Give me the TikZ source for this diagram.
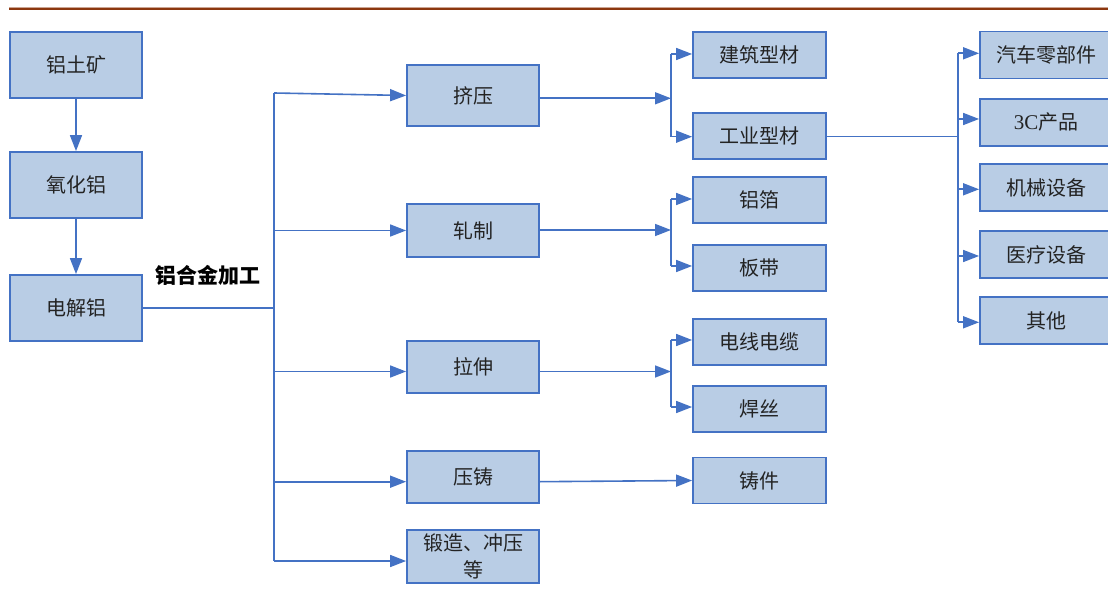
\documentclass[tikz,border=0pt]{standalone}
\usepackage{fontspec}
\setmainfont{Noto Sans CJK SC}
\newfontfamily\latfont{Liberation Serif}
\usetikzlibrary{arrows.meta}
\definecolor{bf}{RGB}{185,205,229}
\definecolor{bc}{RGB}{68,114,196}
\definecolor{tc}{RGB}{35,35,35}
\definecolor{topc}{RGB}{140,55,15}
\begin{document}
\begin{tikzpicture}[x=1pt,y=-1pt,
  box/.style={draw=bc,fill=bf,line width=1.8pt,inner sep=0pt,text=tc,
    font=\fontsize{20}{27}\selectfont,align=center},
  colA/.style={box,minimum width=132pt},
  colC/.style={box,minimum width=133pt,minimum height=46pt},
  colD/.style={box,minimum width=132pt,minimum height=47pt},
  conn/.style={draw=bc,line width=1.6pt},
  arr/.style={conn,-{Triangle[length=16pt,width=12pt]}}]
\useasboundingbox (0,0) rectangle (1108,601);
\clip (0,0) rectangle (1108,601);
\fill[white] (0,0) rectangle (1108,601);
% top rule
\coordinate (tl) at (9,9.5);
\coordinate (tr) at (1108,9.5);
\draw[topc!45,line width=1pt] ([yshift=1.5pt]tl) -- ([yshift=1.5pt]tr);
\draw[topc,line width=2pt] (tl) -- (tr);

% first column
\node[colA,minimum height=66pt] (a1) at (76,65) {铝土矿};
\node[colA,minimum height=66pt] (a2) at (76,185) {氧化铝};
\node[colA,minimum height=66pt] (a3) at (76,308) {电解铝};
\draw[arr] (a1) -- (a2);
\draw[arr] (a2) -- (a3);
\node[font=\fontsize{21}{24}\selectfont\bfseries,text=black] (lbl) at (208,275) {铝合金加工};

% second column
\node[colA,minimum height=61pt] (b1) at (473,95.5) {挤压};
\node[colA,minimum height=53pt] (b2) at (473,230.5) {轧制};
\node[colA,minimum height=52pt] (b3) at (473,367) {拉伸};
\node[colA,minimum height=52pt] (b4) at (473,477) {压铸};
\node[colA,minimum height=53pt,font=\fontsize{20}{27}\selectfont] (b5) at (473,556.5) {锻造、冲压\\等};

\coordinate (j1) at (274,308);
\coordinate (jt) at (274,93);
\coordinate (jb) at (274,561);
\draw[conn] (a3.east) -- (j1);
\draw[conn] (jt) -- (jb);
\draw[arr] (jt) -- (b1.west);
\draw[arr] (j1 |- b2.west) -- (b2.west);
\draw[arr] (274,371.5) -- ([yshift=-4.5pt]b3.west);
\draw[arr] (274,481.7) -- ([yshift=-4.7pt]b4.west);
\draw[arr] (jb) -- ([yshift=-4.5pt]b5.west);

% third column
\node[colC] (c1) at (759.5,55) {建筑型材};
\node[colC] (c2) at (759.5,136) {工业型材};
\node[colC] (c3) at (759.5,200) {铝箔};
\node[colC] (c4) at (759.5,268) {板带};
\node[colC] (c5) at (759.5,342) {电线电缆};
\node[colC] (c6) at (759.5,409) {焊丝};
\node[colC] (c7) at (759.5,480.5) {铸件};

% extrusion group
\coordinate (k1) at (671,98.3);
\coordinate (k1t) at (671,54);
\coordinate (k1b) at (671,136.7);
\draw[arr] ([yshift=-2.8pt]b1.east) -- (k1);
\draw[conn] (k1t) -- (k1b);
\draw[arr] (k1t) -- (c1.west |- k1t);
\draw[arr] (k1b) -- (c2.west |- k1b);

% rolling group
\coordinate (k2) at (671,230);
\coordinate (k2t) at (671,199);
\coordinate (k2b) at (671,266);
\draw[arr] (b2.east |- k2) -- (k2);
\draw[conn] (k2t) -- (k2b);
\draw[arr] (k2t) -- (c3.west |- k2t);
\draw[arr] (k2b) -- (c4.west |- k2b);

% drawing group
\coordinate (k3) at (671,371.5);
\coordinate (k3t) at (671,340);
\coordinate (k3b) at (671,407);
\draw[arr] (b3.east |- k3) -- (k3);
\draw[conn] (k3t) -- (k3b);
\draw[arr] (k3t) -- (c5.west |- k3t);
\draw[arr] (k3b) -- (c6.west |- k3b);

% die casting
\draw[arr] ([yshift=-4.7pt]b4.east) -- (c7.west);

% fourth column
\node[colD] (d1) at (1046,55) {汽车零部件};
\node[colD] (d2) at (1046,122.3) {{\latfont\fontsize{21}{27}\selectfont 3C}产品};
\node[colD] (d3) at (1046,187.5) {机械设备};
\node[colD] (d4) at (1046,254.7) {医疗设备};
\node[colD] (d5) at (1046,320.8) {其他};

\coordinate (m) at (958,136.7);
\coordinate (mt) at (958,53.3);
\coordinate (mb) at (958,322.3);
\draw[conn] (c2.east |- m) -- (m);
\draw[conn] (mt) -- (mb);
\draw[arr] (mt) -- (d1.west |- mt);
\draw[arr] (958,119) -- (d2.west |- 0,119);
\draw[arr] (958,189.3) -- (d3.west |- 0,189.3);
\draw[arr] (958,256) -- (d4.west |- 0,256);
\draw[arr] (mb) -- (d5.west |- mb);
\end{tikzpicture}
\end{document}
